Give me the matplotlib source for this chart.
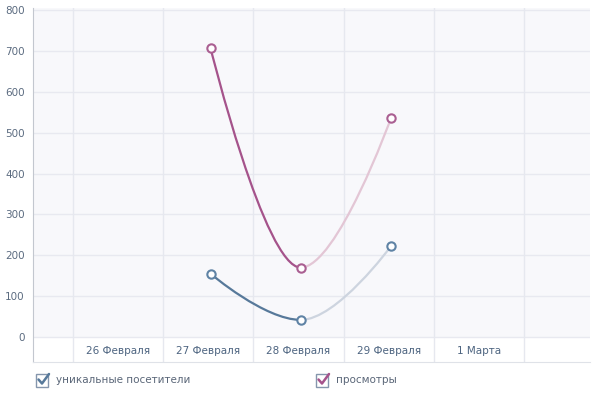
import matplotlib
matplotlib.use("Agg")
import matplotlib.pyplot as plt
from matplotlib.path import Path
from matplotlib.patches import PathPatch, Rectangle
from matplotlib.lines import Line2D
import numpy as np

categories = ['26 Февраля', '27 Февраля', '28 Февраля', '29 Февраля', '1 Марта']
unique_visitors = [None, 155, 42, 222, None]
page_views = [None, 707, 170, 535, None]
y_ticks = [0, 100, 200, 300, 400, 500, 600, 700, 800]
series_names = ['уникальные посетители', 'просмотры']

plt.rcParams['font.family'] = ['DejaVu Sans']

fig = plt.figure(figsize=(6.0, 3.99), dpi=100)
W, H = 600, 399
ax = fig.add_axes([33 / W, (H - 362) / H, (590 - 33) / W, (362 - 8) / H])
ax.set_facecolor('white')
ax.set_xlim(-0.944, 5.233)
ax.set_ylim(-61, 805)

POINT_SHIFT = 0.025  # markers sit slightly right of the column centre

# plot area background above zero
ax.axhspan(0, 805, color='#f8f8fb', zorder=0, lw=0)
for y in y_ticks:
    ax.axhline(y, color='#e8e9f0', lw=1, zorder=1)
for k in range(len(categories) + 1):
    ax.axvline(k - 0.5, color='#e6e8ef', lw=1, zorder=1)

ax.set_yticks(y_ticks)
ax.set_yticklabels([str(v) for v in y_ticks], color='#5b6b80', fontsize=7.5)
ax.tick_params(axis='y', length=0, pad=6)
ax.set_xticks([])
for s in ['top', 'right']:
    ax.spines[s].set_visible(False)
ax.spines['left'].set_color('#c3c7cf')
ax.spines['bottom'].set_color('#dfe2e8')

for i, c in enumerate(categories):
    ax.text(i, -33, c, ha='center', va='center', fontsize=7.5, color='#4d6480')


def spline_segments(xs, ys, smoothing=1.5):
    denom = smoothing + 1
    n = len(xs)
    left = [None] * n
    right = [None] * n
    for i in range(1, n - 1):
        lx, ly = xs[i - 1], ys[i - 1]
        px, py = xs[i], ys[i]
        nx, ny = xs[i + 1], ys[i + 1]
        lcx = (smoothing * px + lx) / denom
        lcy = (smoothing * py + ly) / denom
        rcx = (smoothing * px + nx) / denom
        rcy = (smoothing * py + ny) / denom
        corr = (rcy - lcy) * (rcx - px) / (rcx - lcx) + py - rcy
        lcy += corr
        rcy += corr
        if lcy > ly and lcy > py:
            lcy = max(ly, py); rcy = 2 * py - lcy
        elif lcy < ly and lcy < py:
            lcy = min(ly, py); rcy = 2 * py - lcy
        if rcy > ny and rcy > py:
            rcy = max(ny, py); lcy = 2 * py - rcy
        elif rcy < ny and rcy < py:
            rcy = min(ny, py); lcy = 2 * py - rcy
        left[i] = (lcx, lcy)
        right[i] = (rcx, rcy)
    segs = []
    for i in range(1, n):
        c1 = right[i - 1] if right[i - 1] else (xs[i - 1], ys[i - 1])
        c2 = left[i] if left[i] else (xs[i], ys[i])
        segs.append([(xs[i - 1], ys[i - 1]), c1, c2, (xs[i], ys[i])])
    return segs


def draw_series(values, dark, light, marker_col):
    xs = [i + POINT_SHIFT for i, v in enumerate(values) if v is not None]
    ys = [v for v in values if v is not None]
    segs = spline_segments(xs, ys)
    for j, seg in enumerate(segs):
        col = dark if j < len(segs) - 1 else light
        path = Path(seg, [Path.MOVETO, Path.CURVE4, Path.CURVE4, Path.CURVE4])
        ax.add_patch(PathPatch(path, fc='none', ec=col, lw=1.6, zorder=3,
                               capstyle='round'))
    ax.plot(xs, ys, ls='none', marker='o', ms=6, mfc='white', mec=marker_col,
            mew=1.5, zorder=4)


draw_series(page_views, '#a5538b', '#e3c6d5', '#aa5f92')
draw_series(unique_visitors, '#57799a', '#cdd4df', '#5f83a5')

# legend with check boxes
def legend_item(x0, label, col):
    yc = 380
    box = Rectangle((x0 / W, (H - yc - 6.5) / H), 12 / W, 13 / H,
                    transform=fig.transFigure, fc='white', ec='#8596ad',
                    lw=1.0)
    fig.patches.append(box)
    cx = np.array([x0 + 2.5, x0 + 6, x0 + 13]) / W
    cy = (H - np.array([yc - 0.5, yc + 3.5, yc - 6])) / H
    fig.lines.append(Line2D(cx, cy, transform=fig.transFigure, color=col,
                            lw=1.8, solid_capstyle='round',
                            solid_joinstyle='round'))
    fig.text((x0 + 20) / W, (H - yc) / H, label, ha='left', va='center',
             fontsize=7.5, color='#5a6678')


legend_item(36, series_names[0], '#57799a')
legend_item(316, series_names[1], '#a5538b')

fig.savefig('out.png', dpi=100, facecolor='white')
